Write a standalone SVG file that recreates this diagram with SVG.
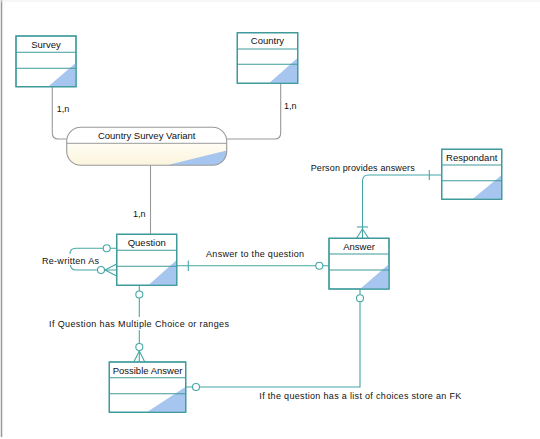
<svg xmlns="http://www.w3.org/2000/svg" width="540" height="439" viewBox="0 0 540 439">
<style>
.ent{fill:#fff;stroke:#3e9a9b;stroke-width:1.2}
.div{stroke:#3e9a9b;stroke-width:1.1}
.tri{fill:#a6c5ef}
.title{font-family:"Liberation Sans",Arial,sans-serif;font-size:9.5px;fill:#111;text-anchor:middle}
.lbl{font-family:"Liberation Sans",Arial,sans-serif;font-size:9px;fill:#111}
.con{fill:none;stroke:#45a6a7;stroke-width:1.1}
.gcon{fill:none;stroke:#999;stroke-width:1.1}
.circ{fill:#fff;stroke:#45a6a7;stroke-width:1.1}
</style>
<defs>
<linearGradient id="yel" x1="0" y1="0" x2="0" y2="1">
<stop offset="0" stop-color="#fffdf4"/><stop offset="1" stop-color="#fbf4dc"/>
</linearGradient>
<clipPath id="csvclip"><rect x="66.7" y="127.3" width="160" height="38" rx="14"/></clipPath>
</defs>
<rect width="540" height="439" fill="#fff"/>
<line x1="1.5" y1="0" x2="1.5" y2="437" stroke="#999" stroke-width="1.5"/>
<line x1="0" y1="1" x2="540" y2="1" stroke="#eee" stroke-width="1"/>

<g id="connectors">
<path class="gcon" d="M52.3 86.7 V133 Q52.3 139 58.3 139 H66.7"/>
<path class="gcon" d="M280.7 83.3 V133 Q280.7 139 274.7 139 H226.7"/>
<path class="gcon" d="M150.5 165.3 V234.3"/>
<path class="con" d="M176.7 265.7 H329"/>
<line class="con" x1="188.3" y1="260.5" x2="188.3" y2="271"/>
<circle class="circ" cx="319.3" cy="265.7" r="3.5"/>
<path class="con" d="M441.7 175 H368.7 Q362.5 175 362.5 181 V238.3"/>
<line class="con" x1="429.3" y1="170" x2="429.3" y2="180"/>
<line class="con" x1="357" y1="227" x2="368" y2="227"/>
<path class="con" d="M362.5 229 L356.5 238.3 M362.5 229 L368.5 238.3"/>
<path class="con" d="M360 289 V387 H185.7"/>
<circle class="circ" cx="360" cy="298.3" r="3.5"/>
<circle class="circ" cx="196" cy="387" r="3.5"/>
<path class="con" d="M139.3 285.3 V362"/>
<circle class="circ" cx="139.3" cy="294.5" r="3.5"/>
<circle class="circ" cx="139.3" cy="347" r="3.5"/>
<path class="con" d="M139.3 351 L133.8 362 M139.3 351 L144.8 362"/>
<path class="con" d="M116.7 248.3 H76 Q70 248.3 70 254"/>
<path class="con" d="M70.5 265 Q70.5 270 76.5 270 H116.7"/>
<circle class="circ" cx="106.7" cy="248.3" r="3.5"/>
<circle class="circ" cx="101" cy="270" r="3.5"/>
<path class="con" d="M105 270 L116.7 264 M105 270 L116.7 276"/>
</g>

<g id="survey">
<rect class="ent" x="16" y="36" width="60" height="50.7"/>
<polygon class="tri" points="48,86.7 76,86.7 76,62.7"/>
<rect x="16" y="36" width="60" height="50.7" fill="none" stroke="#3e9a9b" stroke-width="1.2"/>
<line class="div" x1="16" y1="52.3" x2="76" y2="52.3"/>
<line class="div" x1="16" y1="68.3" x2="76" y2="68.3"/>
<text class="title" x="46" y="47.5">Survey</text>
</g>

<g id="country">
<rect class="ent" x="237.3" y="32.7" width="60.4" height="50.6"/>
<polygon class="tri" points="269,83.3 297.7,83.3 297.7,57.7"/>
<rect x="237.3" y="32.7" width="60.4" height="50.6" fill="none" stroke="#3e9a9b" stroke-width="1.2"/>
<line class="div" x1="237.3" y1="49" x2="297.7" y2="49"/>
<line class="div" x1="237.3" y1="64.3" x2="297.7" y2="64.3"/>
<text class="title" x="267.5" y="44.2">Country</text>
</g>

<g id="csv">
<g clip-path="url(#csvclip)">
<rect x="66.7" y="127.3" width="160" height="16" fill="#fff"/>
<rect x="66.7" y="143.3" width="160" height="22" fill="url(#yel)"/>
<polygon class="tri" points="166.7,165.3 226.7,165.3 226.7,150.5"/>
</g>
<rect x="66.7" y="127.3" width="160" height="38" rx="14" fill="none" stroke="#999" stroke-width="1.1"/>
<line x1="66.7" y1="143.3" x2="226.7" y2="143.3" stroke="#999" stroke-width="1"/>
<text class="title" x="146.7" y="139.3">Country Survey Variant</text>
</g>

<g id="respondant">
<rect class="ent" x="441.7" y="149.3" width="60" height="50"/>
<polygon class="tri" points="472.3,199.3 501.7,199.3 501.7,175"/>
<rect x="441.7" y="149.3" width="60" height="50" fill="none" stroke="#3e9a9b" stroke-width="1.2"/>
<line class="div" x1="441.7" y1="165" x2="501.7" y2="165"/>
<line class="div" x1="441.7" y1="180.7" x2="501.7" y2="180.7"/>
<text class="title" x="471.7" y="160.5">Respondant</text>
</g>

<g id="question">
<rect class="ent" x="116.7" y="234.3" width="60" height="51"/>
<polygon class="tri" points="148.3,285.3 176.7,285.3 176.7,260"/>
<rect x="116.7" y="234.3" width="60" height="51" fill="none" stroke="#3e9a9b" stroke-width="1.2"/>
<line class="div" x1="116.7" y1="250.3" x2="176.7" y2="250.3"/>
<line class="div" x1="116.7" y1="266.3" x2="176.7" y2="266.3"/>
<text class="title" x="146.7" y="246.3">Question</text>
</g>

<g id="answer">
<rect class="ent" x="329" y="238.3" width="60" height="50.7"/>
<polygon class="tri" points="360,289 389,289 389,264"/>
<rect x="329" y="238.3" width="60" height="50.7" fill="none" stroke="#3e9a9b" stroke-width="1.2"/>
<line class="div" x1="329" y1="254" x2="389" y2="254"/>
<line class="div" x1="329" y1="270" x2="389" y2="270"/>
<text class="title" x="359" y="249.7">Answer</text>
</g>

<g id="possible-answer">
<rect class="ent" x="109.3" y="362" width="76.4" height="50.3"/>
<polygon class="tri" points="146.7,412.3 185.7,412.3 185.7,386.7"/>
<rect x="109.3" y="362" width="76.4" height="50.3" fill="none" stroke="#3e9a9b" stroke-width="1.2"/>
<line class="div" x1="109.3" y1="377.7" x2="185.7" y2="377.7"/>
<line class="div" x1="109.3" y1="393.7" x2="185.7" y2="393.7"/>
<text class="title" x="147.5" y="373.5">Possible Answer</text>
</g>

<g id="labels">
<text class="lbl" x="56.7" y="112">1,n</text>
<text class="lbl" x="284" y="108.5">1,n</text>
<text class="lbl" x="133" y="216.5">1,n</text>
<text class="lbl" x="42" y="263.5" textLength="57">Re-written As</text>
<text class="lbl" x="206" y="257" textLength="98">Answer to the question</text>
<text class="lbl" x="310.7" y="170.5" textLength="104">Person provides answers</text>
<rect x="48" y="317" width="182" height="13" fill="#fff"/>
<text class="lbl" x="49" y="327" textLength="180">If Question has Multiple Choice or ranges</text>
<text class="lbl" x="259.3" y="398.5" textLength="202">If the question has a list of choices store an FK</text>
</g>
</svg>
